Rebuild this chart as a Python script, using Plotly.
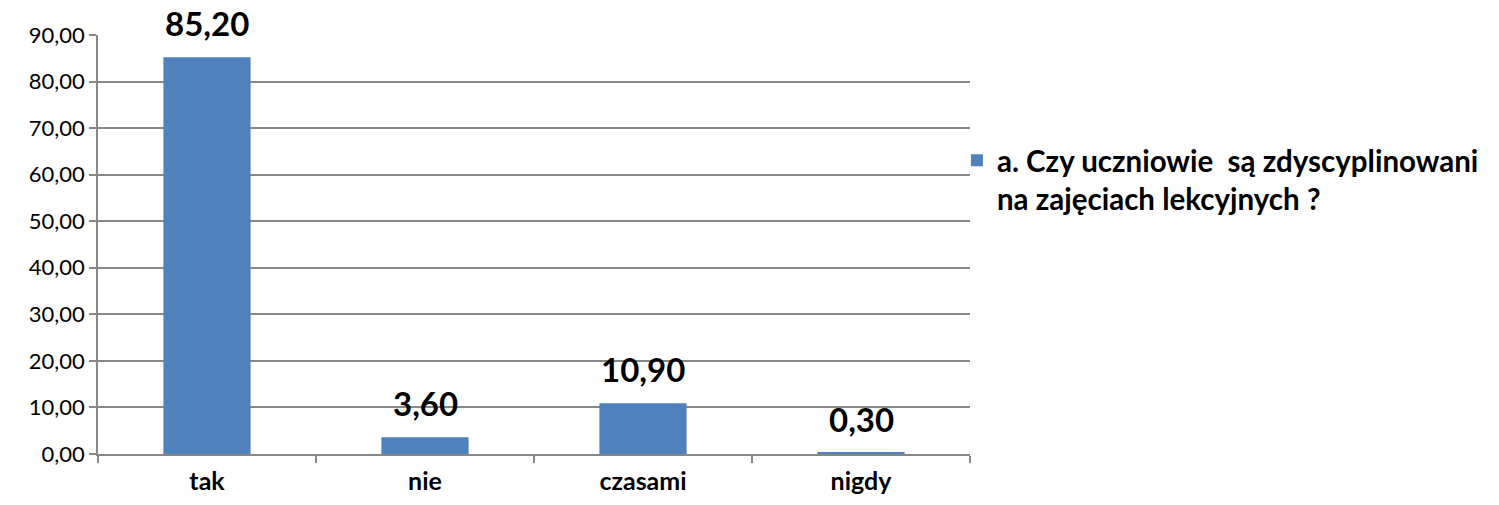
import plotly.graph_objects as go

categories = ["tak", "nie", "czasami", "nigdy"]
values = [85.20, 3.60, 10.90, 0.30]
legend_lines = ["a. Czy uczniowie  są zdyscyplinowani", "na zajęciach lekcyjnych ?"]
y_ticks = [0, 10, 20, 30, 40, 50, 60, 70, 80, 90]

FONT = "Lato"
GRID = "#878787"

series_name = "<br>".join(f"<b>{s}</b>" for s in legend_lines)

fig = go.Figure()
fig.add_trace(go.Bar(
    x=categories, y=values, name=series_name,
    marker=dict(color="#4F81BD", line=dict(width=0)),
    showlegend=True, hoverinfo="skip",
))

for c, v in zip(categories, values):
    fig.add_annotation(
        x=c, y=v, text=f"<b>{v:.2f}</b>".replace(".", ","),
        showarrow=False, yanchor="bottom", yshift=12,
        font=dict(family=FONT, size=33, color="#000000"),
    )

fig.update_layout(
    width=1499, height=505,
    margin=dict(l=98, r=529, t=35, b=51, autoexpand=False),
    paper_bgcolor="white", plot_bgcolor="white",
    separators=", ",
    bargap=0.6,
    font=dict(family=FONT, color="#000000"),
    legend=dict(
        x=0.985, xanchor="left", y=0.655, yanchor="middle",
        font=dict(family=FONT, size=29.5, color="#000000"),
        itemwidth=30, bgcolor="rgba(0,0,0,0)", valign="top",
    ),
)
fig.update_xaxes(
    automargin=False,
    showline=True, linecolor=GRID, linewidth=1.5,
    ticks="outside", tickson="boundaries", ticklen=7, tickcolor=GRID, tickwidth=1.5,
    tickfont=dict(family=FONT, size=25, color="#000000"),
    ticklabelstandoff=4,
    tickvals=categories, ticktext=[f"<b>{c}</b>" for c in categories],
)
fig.update_yaxes(
    automargin=False,
    range=[0, 90], tickvals=y_ticks, tickformat=".2f",
    showline=True, linecolor=GRID, linewidth=1.5,
    ticks="outside", ticklen=7, tickcolor=GRID, tickwidth=1.5,
    showgrid=True, gridcolor=GRID, gridwidth=1.5,
    zeroline=False,
    tickfont=dict(family=FONT, size=22, color="#000000"),
)

fig.write_html("out.html", config={"displayModeBar": False},
               post_script="document.body.style.margin='0';")
